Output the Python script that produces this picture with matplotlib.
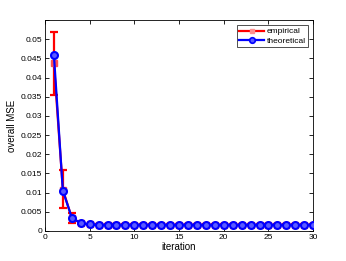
import numpy as np
import matplotlib
matplotlib.use("Agg")
import matplotlib.pyplot as plt
from matplotlib.lines import Line2D

plt.rcParams["font.family"] = ["Liberation Sans", "DejaVu Sans"]

iterations = np.arange(1, 31)
theoretical = [0.0458, 0.0105, 0.0035, 0.0020, 0.0017] + [0.0016] * 25
empirical = [0.0437, 0.0108, 0.0034, 0.0020, 0.0017] + [0.0016] * 25
emp_low = [0.0355, 0.0060, 0.0022, 0.0018, 0.0016] + [0.0015] * 25
emp_high = [0.0520, 0.0158, 0.0046, 0.0022, 0.0018] + [0.0017] * 25

fig = plt.figure(figsize=(3.46, 2.61), dpi=100)
ax = fig.add_axes([0.130, 0.115, 0.775, 0.808])

emp = np.array(empirical)
yerr = [emp - np.array(emp_low), np.array(emp_high) - emp]
ax.errorbar(iterations, empirical, yerr=yerr, color="red", lw=1.6,
            marker="s", ms=4, mfc="#ff5050", mec="#ff5050",
            capsize=3, capthick=1.6, elinewidth=1.6, zorder=2)
ax.plot(iterations, theoretical, color="blue", lw=1.6, marker="o", ms=5,
        mfc="#5a5aff", mec="blue", mew=1.5, zorder=3)

ax.set_xlim(0, 30)
ax.set_ylim(0, 0.055)
ax.set_xticks(range(0, 31, 5))
ax.set_yticks(np.arange(0, 0.0551, 0.005))
ax.set_yticklabels(["0", "0.005", "0.01", "0.015", "0.02", "0.025", "0.03",
                    "0.035", "0.04", "0.045", "0.05", ""])
ax.tick_params(direction="in", top=True, right=True, labelsize=6, length=3,
               width=0.6, pad=2)
for s in ax.spines.values():
    s.set_linewidth(0.6)
ax.set_xlabel("iteration", fontsize=7, labelpad=1)
ax.set_ylabel("overall MSE", fontsize=7, labelpad=3)

handles = [
    Line2D([], [], color="red", lw=1.6, marker="s", ms=3.5,
           mfc="#ff9090", mec="#ff9090"),
    Line2D([], [], color="blue", lw=1.6, marker="o", ms=4,
           mfc="#5a5aff", mec="blue", mew=1.2),
]
leg = ax.legend(handles, ["empirical", "theoretical"], loc="upper right",
                fontsize=6, frameon=True, fancybox=False, borderpad=0.3,
                handlelength=3, handletextpad=0.3, labelspacing=0.2,
                borderaxespad=0.6)
leg.get_frame().set_edgecolor("black")
leg.get_frame().set_linewidth(0.6)

fig.savefig("out.png", dpi=100)
